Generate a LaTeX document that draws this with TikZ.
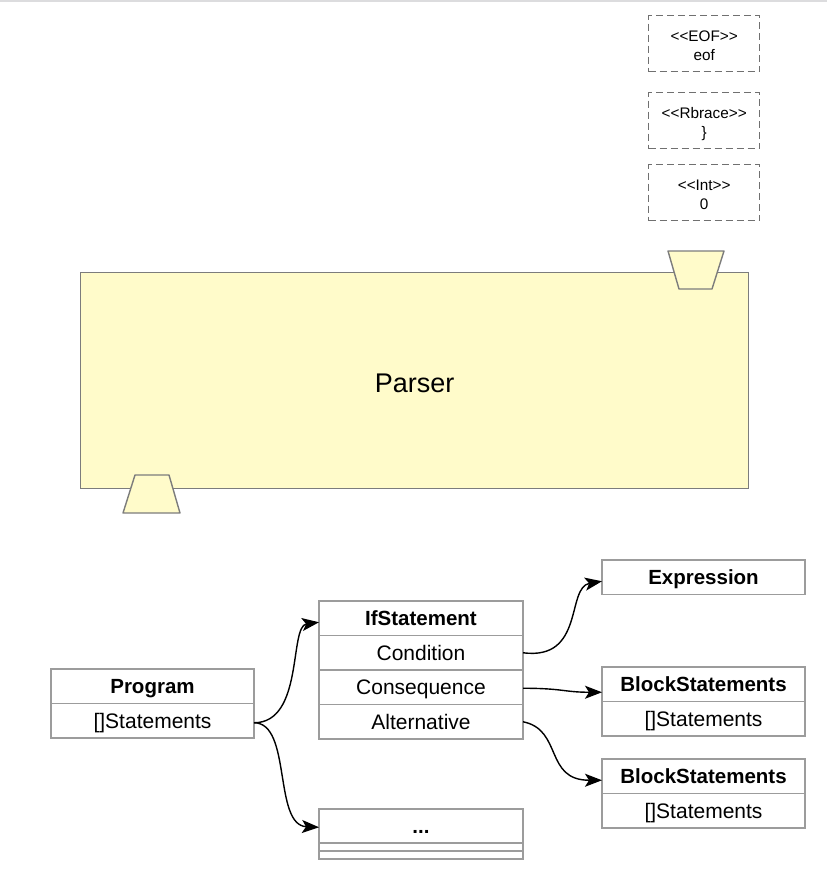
\documentclass[tikz,border=0pt]{standalone}
\usepackage{fontspec}
\newfontfamily\hv{Liberation Sans}
\usetikzlibrary{arrows.meta,calc}
\definecolor{boxgray}{HTML}{9C9C9C}
\definecolor{pgray}{HTML}{7C7C7C}
\definecolor{dgray}{HTML}{707070}
\definecolor{pfill}{HTML}{FFFBCA}
\definecolor{topline}{HTML}{DCDCDE}
\tikzset{
  row/.style={draw=boxgray, line width=1.3pt, minimum width=204pt, minimum height=34.5pt,
    inner sep=0pt, outer sep=0pt, anchor=north west, text height=15pt, text depth=0pt,
    font=\hv\fontsize{21}{24}\selectfont},
  hdr/.style={row, font=\hv\bfseries\fontsize{20.5}{24}\selectfont},
  thinrow/.style={draw=boxgray, line width=1.3pt, minimum width=204pt, minimum height=8pt,
    inner sep=0pt, outer sep=0pt, anchor=north west},
  tokenbox/.style={draw=dgray, line width=1.4pt, dash pattern=on 7pt off 4pt,
    minimum width=111pt, minimum height=56pt, inner sep=0pt, anchor=north west, align=center,
    text height=34pt, text depth=0pt, font=\hv\fontsize{15.3}{19}\selectfont},
  parserbox/.style={draw=pgray, fill=pfill, line width=1.4pt, minimum width=668pt,
    minimum height=216pt, inner sep=0pt, anchor=north west, text height=23.4pt, text depth=0pt,
    font=\hv\fontsize{27}{30}\selectfont},
  port/.style={draw=pgray, fill=pfill, line width=1.4pt, line join=round},
  arr/.style={-{Stealth[length=17pt,width=13pt,inset=4pt]}, line width=1.4pt, black},
}
\begin{document}
\begin{tikzpicture}[x=1pt,y=-1pt]
\useasboundingbox (0,0) rectangle (827,896);
\fill[topline] (0,0) rectangle (827,2);
% token boxes
\node[tokenbox] (eof) at (648,15) {<{}<EOF>{}>\\eof};
\node[tokenbox] (rbrace) at (648,92) {<{}<Rbrace>{}>\\\}};
\node[tokenbox] (int) at (648,164) {<{}<Int>{}>\\0};
% parser
\node[parserbox] (parser) at (80,272) {Parser};
\draw[port] (668,251) -- (724,251) -- (712,289) -- (679,289) -- cycle;
\draw[port] (135,475) -- (169,475) -- (180,513) -- (123,513) -- cycle;
% Program
\node[hdr, minimum width=203pt] (prog) at (51,669) {Program};
\node[row, minimum width=203pt] (progst) at (51,703.5) {[]Statements};
% IfStatement
\node[hdr] (ifs) at (319,601) {IfStatement};
\node[row] (cond) at (319,635.5) {Condition};
\node[row] (cons) at (319,670) {Consequence};
\node[row] (alt) at (319,704.5) {Alternative};
% dots
\node[hdr] (dots) at (319,809) {...};
\node[thinrow] (dots2) at (319,843) {};
\node[thinrow] (dots3) at (319,851) {};
% Expression
\node[hdr, minimum width=203pt] (expr) at (602,560) {Expression};
% Block statements
\node[hdr, minimum width=203pt] (blk1) at (602,667) {BlockStatements};
\node[row, minimum width=203pt] (blk1st) at (602,701.5) {[]Statements};
\node[hdr, minimum width=203pt] (blk2) at (602,759) {BlockStatements};
\node[row, minimum width=203pt] (blk2st) at (602,793.5) {[]Statements};
% connectors
\draw[arr] ($(progst.east)+(0,2)$) .. controls +(50,0) and +(-30,4) .. ($(ifs.west)+(0,4)$);
\draw[arr] ($(progst.east)+(0,2)$) .. controls +(38,0) and +(-46,-2) .. ($(dots.west)+(0,1)$);
\draw[arr] ($(cond.east)+(0,0)$) .. controls +(62,8) and +(-36,6) .. ($(expr.west)+(0,4)$);
\draw[arr] ($(cons.east)+(0,1)$) .. controls +(40,0) and +(-38,0) .. ($(blk1.west)+(0,8)$);
\draw[arr] ($(alt.east)+(0,0)$) .. controls +(40,8) and +(-58,0) .. ($(blk2.west)+(0,4)$);
\end{tikzpicture}
\end{document}
